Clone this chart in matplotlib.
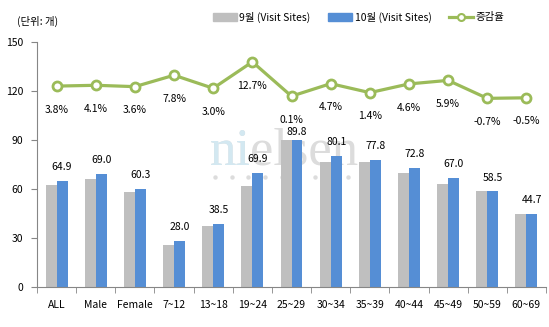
import matplotlib.pyplot as plt
import numpy as np
from matplotlib.patches import Patch
from matplotlib.lines import Line2D

plt.rcParams['font.family'] = ['Noto Sans CJK KR', 'DejaVu Sans']

categories = ['ALL', 'Male', 'Female', '7~12', '13~18', '19~24', '25~29',
              '30~34', '35~39', '40~44', '45~49', '50~59', '60~69']
sep = [62.5, 66.3, 58.2, 26.0, 37.4, 62.0, 89.7, 76.5, 76.7, 69.6, 63.3, 58.9, 44.9]
octo = [64.9, 69.0, 60.3, 28.0, 38.5, 69.9, 89.8, 80.1, 77.8, 72.8, 67.0, 58.5, 44.7]
growth = [3.8, 4.1, 3.6, 7.8, 3.0, 12.7, 0.1, 4.7, 1.4, 4.6, 5.9, -0.7, -0.5]

gray = '#BFBFBF'
blue = '#558ED5'
green = '#9BBB59'
axis_c = '#868686'

fig = plt.figure(figsize=(5.49, 3.27), dpi=100)
ax = fig.add_axes([37 / 549, 40 / 327, 509 / 549, 245 / 327])
x = np.arange(len(categories))
w = 0.28

ax.bar(x - w / 2, sep, w, color=gray, zorder=2)
ax.bar(x + w / 2, octo, w, color=blue, zorder=2)
for xi, v in zip(x, octo):
    off = 4.8 if v > 85 else 8.5  # keep the tallest label clear of the line labels
    ax.text(xi + w / 2, v + off, f'{v:.1f}', ha='center', va='center', fontsize=7.5, zorder=4)

ax.set_xlim(-0.5, len(categories) - 0.5)
ax.set_ylim(0, 150)
ax.set_yticks(range(0, 151, 30))
ax.set_xticks(x)
ax.set_xticklabels(categories, fontsize=7.5)
ax.set_xticks(np.arange(-0.5, len(categories), 1), minor=True)
ax.tick_params(axis='x', which='major', length=0, pad=9)
ax.tick_params(axis='x', which='minor', length=4, color=axis_c)
ax.tick_params(axis='y', labelsize=7.5, length=4, color=axis_c, pad=6)
for s in ['top', 'right']:
    ax.spines[s].set_visible(False)
for s in ['left', 'bottom']:
    ax.spines[s].set_color(axis_c)

# watermark behind the bars: grey word with the first two letters in light blue
wm = dict(transform=ax.transAxes, fontsize=38, family='Liberation Serif',
          zorder=1, ha='left', va='baseline')
ax.text(0.340, 0.498, 'nielsen', color='#DCDCDC', **wm)
ax.text(0.340, 0.498, 'ni', color='#D3E8F1', **wm)
dots_x = np.linspace(0.350, 0.611, 9)
ax.scatter(dots_x, [0.449] * len(dots_x), transform=ax.transAxes, s=10,
           color='#DCDCDC', zorder=1, linewidths=0)

# growth rate on a hidden secondary axis
ax2 = ax.twinx()
ax2.set_ylim(-70, 20)
ax2.axis('off')
ax2.plot(x, growth, color=green, lw=2.3, marker='o', markersize=6.5,
         markerfacecolor='white', markeredgecolor=green, markeredgewidth=2, zorder=3)
for xi, g in zip(x, growth):
    ax2.text(xi, g - 8.7, f'{g:.1f}%', ha='center', va='center', fontsize=7.5)

fig.text(17 / 549, 1 - 21 / 327, '(단위: 개)', fontsize=7.5, va='center')

handles = [Patch(color=gray), Patch(color=blue),
           Line2D([], [], color=green, lw=2.3, marker='o', markersize=5,
                  markerfacecolor='white', markeredgecolor=green, markeredgewidth=1.5)]
fig.legend(handles, ['9월 (Visit Sites)', '10월 (Visit Sites)', '증감율'],
           loc='center right', bbox_to_anchor=(510 / 549, 1 - 17 / 327), ncol=3,
           frameon=False, fontsize=7.5, handlelength=2.3, handleheight=0.8,
           handletextpad=0.25, columnspacing=1.7, borderpad=0)

fig.savefig('out.png', dpi=100)
